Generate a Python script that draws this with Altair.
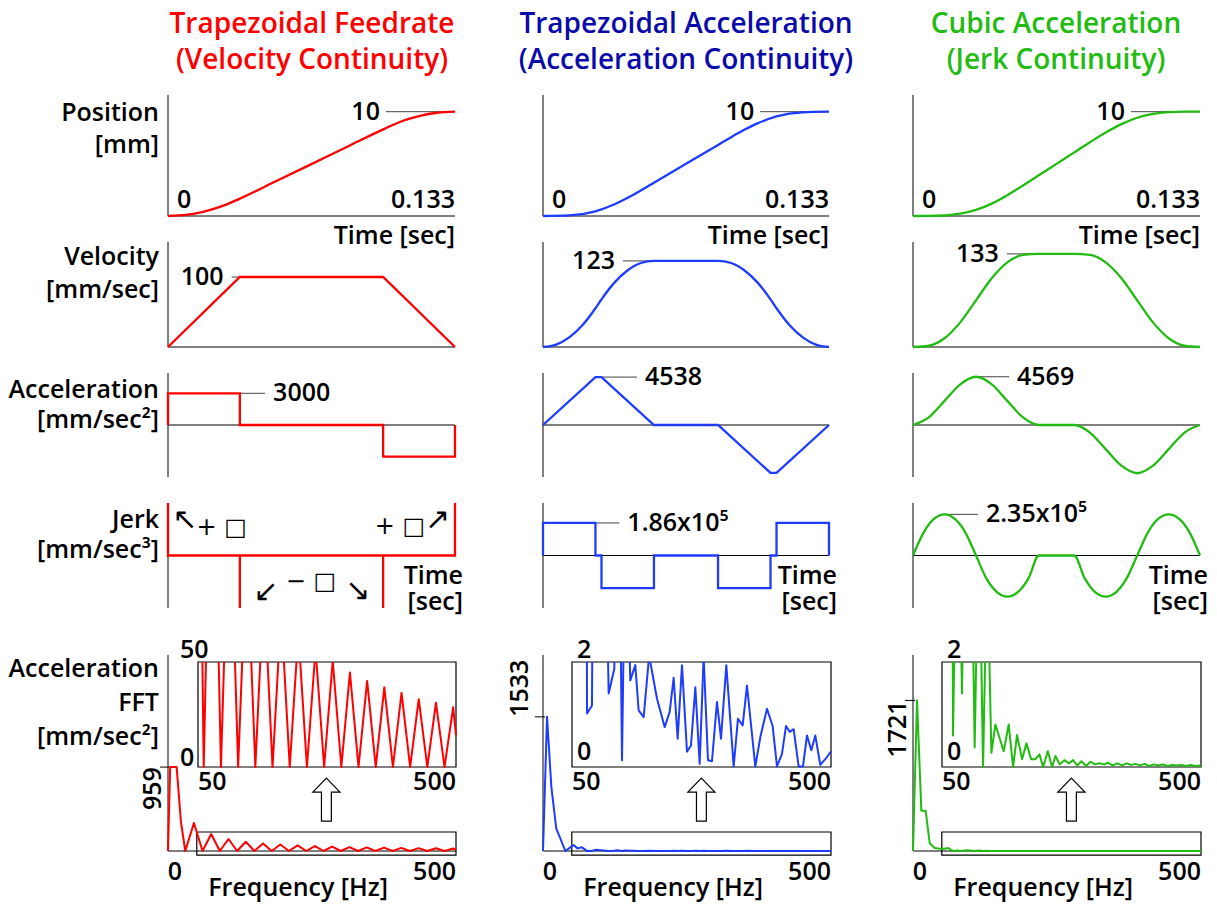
import altair as alt
import pandas as pd

FONT = "Open Sans"
FS = 25
FW = 600
T_END = 0.133

# ---------------- text content ----------------
title_line1 = ["Trapezoidal Feedrate", "Trapezoidal Acceleration", "Cubic Acceleration"]
title_line2 = ["(Velocity Continuity)", "(Acceleration Continuity)", "(Jerk Continuity)"]
title_colors = ["#FF0000", "#0A0AAA", "#22BB11"]
line_colors = ["#FF0000", "#1E3CFF", "#22BB11"]

row_labels = [
    ["Position", "[mm]"],
    ["Velocity", "[mm/sec]"],
    ["Acceleration", "[mm/sec²]"],
    ["Jerk", "[mm/sec³]"],
    ["Acceleration", "FFT", "[mm/sec²]"],
]

vel_peak = [100, 123, 133]
acc_peak = [3000, 4538, 4569]
jerk_peak = [0, 1.86, 2.35]          # x10^5
jerk_peak_text = ["", "1.86x10⁵", "2.35x10⁵"]
fft_peak = [959, 1533, 1721]
inset_top = [50, 2, 2]

# ---------------- time-domain series (time in s) ----------------
red_pos_t = [0, 0.0083, 0.0167, 0.025, 0.0333, 0.05, 0.0667, 0.0833, 0.1, 0.108, 0.1163, 0.1247, 0.133]
red_pos = [0, 0.10, 0.42, 0.94, 1.67, 3.33, 5.0, 6.67, 8.33, 9.06, 9.58, 9.90, 10.0]
blue_pos_t = [0, 0.0122, 0.0244, 0.0333, 0.0394, 0.0455, 0.0516, 0.0665, 0.0814, 0.0875, 0.0936, 0.0997, 0.1086, 0.1208, 0.133]
blue_pos = [0, 0.06, 0.45, 1.12, 1.74, 2.44, 3.19, 5.0, 6.81, 7.56, 8.26, 8.88, 9.55, 9.94, 10.0]
green_pos_t = [0, 0.0073, 0.0146, 0.0219, 0.0292, 0.0365, 0.0437, 0.051, 0.0583, 0.0665, 0.0747, 0.082, 0.0893, 0.0966, 0.1039, 0.1112, 0.1185, 0.1258, 0.133]
green_pos = [0, 0.003, 0.05, 0.22, 0.58, 1.19, 2.0, 2.93, 3.9, 5.0, 6.1, 7.07, 8.0, 8.81, 9.42, 9.78, 9.95, 10.0, 10.0]

red_vel_t = [0, 0.0333, 0.0997, 0.133]
red_vel = [0, 100, 100, 0]
blue_vel_t = [0, 0.0061, 0.0122, 0.0183, 0.0244, 0.0272, 0.0333, 0.0394, 0.0455, 0.0516, 0.0814, 0.0875, 0.0936, 0.0997, 0.1058, 0.1086, 0.1147, 0.1208, 0.1269, 0.133]
blue_vel = [0, 3.5, 13.8, 31, 55.4, 68.1, 92.3, 109.7, 120, 123, 123, 120, 109.7, 92.3, 68.1, 55.4, 31, 13.8, 3.5, 0]
green_vel_t = [0, 0.0073, 0.0146, 0.0219, 0.0292, 0.0365, 0.0437, 0.051, 0.0583, 0.0747, 0.082, 0.0893, 0.0966, 0.1039, 0.1112, 0.1185, 0.1258, 0.133]
green_vel = [0, 1.8, 12.5, 35.2, 66.7, 98.2, 120.9, 131.6, 133, 133, 131.6, 120.9, 98.2, 66.7, 35.2, 12.5, 1.8, 0]

red_acc_t = [0, 0, 0.0333, 0.0333, 0.0997, 0.0997, 0.133, 0.133]
red_acc = [0, 3000, 3000, 0, 0, -3000, -3000, 0]
blue_acc_t = [0, 0.0244, 0.0272, 0.0516, 0.0814, 0.1058, 0.1086, 0.133]
blue_acc = [0, 4538, 4538, 0, 0, -4538, -4538, 0]
green_acc_t = [0, 0.0073, 0.0146, 0.0219, 0.0292, 0.0365, 0.0437, 0.051, 0.0583, 0.0747, 0.082, 0.0893, 0.0966, 0.1039, 0.1112, 0.1185, 0.1258, 0.133]
green_acc = [0, 714, 2285, 3855, 4569, 3855, 2285, 714, 0, 0, -714, -2285, -3855, -4569, -3855, -2285, -714, 0]

# jerk in units of 1e5 mm/s^3 (red: spikes drawn to panel edge)
red_jerk_t = [0, 0, 0.0333, 0.0333, 0.0333, 0.0997, 0.0997, 0.0997, 0.133, 0.133]
red_jerk = [3, 0, 0, -3, 0, 0, -3, 0, 0, 3]
blue_jerk_t = [0, 0, 0.0244, 0.0244, 0.0272, 0.0272, 0.0516, 0.0516, 0.0814, 0.0814, 0.1058, 0.1058, 0.1086, 0.1086, 0.133, 0.133]
blue_jerk = [0, 1.86, 1.86, 0, 0, -1.86, -1.86, 0, 0, -1.86, -1.86, 0, 0, 1.86, 1.86, 0]
green_jerk_t = [0, 0.0049, 0.0097, 0.0146, 0.0194, 0.0243, 0.0292, 0.034, 0.0389, 0.0437, 0.0486, 0.0535, 0.0583,
                0.0747, 0.0796, 0.0844, 0.0893, 0.0942, 0.099, 0.1039, 0.1088, 0.1136, 0.1185, 0.1234, 0.1282, 0.133]
green_jerk = [0, 1.31, 2.09, 2.35, 2.09, 1.31, 0, -1.31, -2.09, -2.35, -2.09, -1.31, 0,
              0, -1.31, -2.09, -2.35, -2.09, -1.31, 0, 1.31, 2.09, 2.35, 2.09, 1.31, 0]

# ---------------- FFT series (Hz, mm/s^2) ----------------
red_fft_f = [0, 3.75, 15, 22.5, 30, 45, 60, 75, 90, 105, 120, 135, 150, 165, 180, 195, 210, 225, 240, 255, 270, 285,
             300, 315, 330, 345, 360, 375, 390, 405, 420, 435, 450, 465, 480, 495, 500]
red_fft_v = [0, 959, 959, 330, 0, 320, 0, 194, 0, 137, 0, 106, 0, 87, 0, 74, 0, 64, 0, 56, 0, 50.5,
             0, 45, 0, 41, 0, 38, 0, 35.3, 0, 32.3, 0, 30.6, 0, 28.4, 15]
blue_fft_f = [0, 7, 14.5, 23, 38.8, 47.5, 53, 60, 67.7, 76.1, 84.7, 92, 99, 106, 113.7, 123.5, 129, 136.9, 143, 151.3,
              160, 165.8, 174.5, 184, 197.7, 211, 219.7, 226.6, 233.6, 241.1, 249.8, 256.7, 264.3, 271.8, 278.7,
              286.3, 293.2, 301.9, 308.9, 318.1, 330.9, 338.4, 346.5, 354, 368.5, 377.2, 388.8, 398.6, 406.2, 414.8,
              421.8, 428.2, 435.1, 443.8, 451.3, 458.3, 465.8, 472.7, 481.4, 493, 500]
blue_fft_v = [0, 1533, 733, 259, 0, 42, 68, 30, 42, 1.02, 1.17, 15, 10, 6, 1.40, 1.87, 8, 0.13, 5, 1.65,
              1.94, 1.08, 0.95, 2.12, 1.30, 0.76, 1.05, 1.70, 0.54, 1.94, 0.29, 0.41, 1.52, 0.06, 2.1,
              0.13, 0.11, 1.24, 0.54, 1.94, 0.01, 0.92, 0.79, 1.55, 0.01, 0.57, 1.11, 0.78, 0.01, 0.25,
              0.78, 0.67, 0.72, 0.01, 0.01, 0.60, 0.32, 0.60, 0.04, 0.19, 0.30]
green_fft_f = [0, 7, 14.5, 22, 29, 37.7, 46.4, 55, 61, 69.1, 77, 84.8, 92, 99, 106.8, 114, 121.3, 128.5, 135.8, 142.8,
               157.2, 165.9, 173.5, 180.4, 189.1, 196.7, 204.8, 212.3, 219.3, 225.7, 233.8, 241.3, 247.1, 254.6, 262.8,
               270.3, 277.8, 284.8, 292.3, 300.4, 308, 315.5, 323.6, 331.2, 338.7, 346.8, 354.3, 363, 370.6, 378.7,
               386, 394, 402, 410, 418, 426, 434, 442, 450, 458, 466, 474, 482, 490, 500]
green_fft_v = [0, 1721, 460, 460, 88, 34, 25, 25, 34, 0.60, 6, 1.40, 8, 6, 0.37, 5, 0, 4, 0.27, 0.81,
               0.30, 0.81, 0, 0.61, 0.15, 0.45, 0.15, 0.15, 0.24, 0, 0.30, 0, 0.21, 0.05, 0.13,
               0.07, 0.13, 0.03, 0.11, 0.02, 0.10, 0.05, 0.07, 0.05, 0.08, 0.03, 0.07, 0.03, 0.07, 0.04,
               0.06, 0.03, 0.06, 0.02, 0.05, 0.03, 0.05, 0.02, 0.04, 0.03, 0.04, 0.02, 0.04, 0.02, 0.03]

pos_series = [(red_pos_t, red_pos), (blue_pos_t, blue_pos), (green_pos_t, green_pos)]
vel_series = [(red_vel_t, red_vel), (blue_vel_t, blue_vel), (green_vel_t, green_vel)]
acc_series = [(red_acc_t, red_acc), (blue_acc_t, blue_acc), (green_acc_t, green_acc)]
jerk_series = [(red_jerk_t, red_jerk), (blue_jerk_t, blue_jerk), (green_jerk_t, green_jerk)]
fft_series = [(red_fft_f, red_fft_v), (blue_fft_f, blue_fft_v), (green_fft_f, green_fft_v)]

# ---------------- layout (pixels) ----------------
XR = [(168, 455), (543, 829), (913, 1200)]      # time panels
FX = [(168, 456), (543, 831), (913, 1201)]      # FFT main, 0..500 Hz
IX = [(198, 456), (572, 831), (942, 1201)]      # FFT inset, 50..500 Hz
POS_Y, VEL_Y, ACC_Y, JERK_Y = (216, 95), (347, 242), (477, 373), (608, 503)
FFT_Y, INSET_Y = (851, 655), (767, 662)


def S(dom, rng):
    return alt.Scale(domain=list(dom), range=list(rng), zero=False, nice=False)


def XY(xs, ys):
    return {"x": alt.X("x:Q", scale=xs, axis=None), "y": alt.Y("y:Q", scale=ys, axis=None)}


def rules(xs, ys, segs, color="black", sw=1.0):
    df = pd.DataFrame(segs, columns=["x", "x2", "y", "y2"])
    return alt.Chart(df).mark_rule(color=color, strokeWidth=sw).encode(x2="x2:Q", y2="y2:Q", **XY(xs, ys))


def curve(xs, ys, xv, yv, color, sw=2.3, interp="linear", join="miter"):
    df = pd.DataFrame({"x": xv, "y": yv, "i": list(range(len(xv)))})
    return alt.Chart(df).mark_line(color=color, strokeWidth=sw, interpolate=interp,
                                   strokeJoin=join).encode(order="i:Q", **XY(xs, ys))


def pieces(xs, ys, segs, color, sw=2.0):
    rows = [{"x": p[0], "y": p[1], "seg": k, "i": j} for k, s in enumerate(segs) for j, p in enumerate(s)]
    return alt.Chart(pd.DataFrame(rows)).mark_line(color=color, strokeWidth=sw, strokeJoin="round").encode(
        detail="seg:N", order="i:Q", **XY(xs, ys))


def label(xs, ys, x, y, s, align="center", baseline="middle", dx=0, dy=0, size=FS, angle=0, font=FONT, weight=FW):
    df = pd.DataFrame({"x": [x], "y": [y], "s": [s]})
    mk = dict(align=align, baseline=baseline, dx=dx, dy=dy, fontSize=size, color="black", font=font,
              fontWeight=weight)
    if angle:
        mk["angle"] = angle
    return alt.Chart(df).mark_text(**mk).encode(text="s:N", **XY(xs, ys))


def frame(xs, ys, x, x2, y, y2):
    df = pd.DataFrame({"x": [x], "x2": [x2], "y": [y], "y2": [y2]})
    return alt.Chart(df).mark_rect(fill="white", fillOpacity=0, stroke="black", strokeWidth=1.2).encode(
        x2="x2:Q", y2="y2:Q", **XY(xs, ys))


def ptext(px, py, s, align="right", size=FS, color="black"):
    return alt.Chart(alt.Data(values=[{"s": s}])).mark_text(
        align=align, baseline="alphabetic", fontSize=size, color=color, font=FONT, fontWeight=FW).encode(
        x=alt.value(px), y=alt.value(py), text="s:N")


def clip_poly(xv, yv, xlo, xhi, yhi):
    """Split a polyline into the pieces that lie inside x in [xlo, xhi], y <= yhi."""
    segs, cur = [], []
    for k in range(len(xv) - 1):
        x0, y0, x1, y1 = xv[k], yv[k], xv[k + 1], yv[k + 1]
        dx, dy = x1 - x0, y1 - y0
        t0, t1, ok = 0.0, 1.0, True
        for p, q in ((-dx, x0 - xlo), (dx, xhi - x0), (dy, yhi - y0)):
            if p == 0:
                if q < 0:
                    ok = False
                    break
            else:
                r = q / p
                if p < 0:
                    t0 = max(t0, r)
                else:
                    t1 = min(t1, r)
        if not ok or t1 - t0 <= 1e-12:
            if cur:
                segs.append(cur)
                cur = []
            continue
        a = (x0 + t0 * dx, y0 + t0 * dy)
        b = (x0 + t1 * dx, y0 + t1 * dy)
        if cur and abs(cur[-1][0] - a[0]) < 1e-9 and abs(cur[-1][1] - a[1]) < 1e-9:
            cur.append(b)
        else:
            if cur:
                segs.append(cur)
            cur = [a, b]
    if cur:
        segs.append(cur)
    return segs


layers = []
GRAY = "#444444"

vel_lead = [(0.0295, 0.0333), (0.0372, 0.0516), (0.0435, 0.0583)]
acc_lead = [(0.0333, 0.045), (0.0272, 0.0437), (0.0292, 0.0445)]
jerk_lead = [None, (0.0244, 0.0355), (0.0146, 0.0301)]
fft_label_pos = [(-36.5, 6, "right"), (-31, -5, "left"), (-31, 3, "right")]

for c in range(3):
    col = line_colors[c]
    ts = [0, T_END]

    # ---- Position ----
    xs, ys = S(ts, XR[c]), S([0, 11.6], POS_Y)
    t, v = pos_series[c]
    layers.append(alt.layer(
        rules(xs, ys, [(0, 0, 0, 11.6), (0, T_END, 0, 0)]),
        rules(xs, ys, [(0.101, T_END, 10, 10)], color=GRAY),
        curve(xs, ys, t, v, col, interp="monotone"),
        label(xs, ys, 0.101, 10, "10", align="right", dx=-6),
        label(xs, ys, 0, 0, "0", align="left", baseline="alphabetic", dx=9, dy=-8),
        label(xs, ys, T_END, 0, "0.133", align="right", baseline="alphabetic", dy=-8),
        label(xs, ys, T_END, 0, "Time [sec]", align="right", baseline="alphabetic", dy=28),
    ))

    # ---- Velocity ----
    xs, ys = S(ts, XR[c]), S([0, 150], VEL_Y)
    t, v = vel_series[c]
    a, b = vel_lead[c]
    layers.append(alt.layer(
        rules(xs, ys, [(0, 0, 0, 150), (0, T_END, 0, 0)]),
        rules(xs, ys, [(a, b, vel_peak[c], vel_peak[c])], color=GRAY),
        curve(xs, ys, t, v, col, interp="linear" if c == 0 else "monotone"),
        label(xs, ys, a, vel_peak[c], str(vel_peak[c]), align="right", dx=-8),
    ))

    # ---- Acceleration ----
    xs, ys = S(ts, XR[c]), S([-4925, 4925], ACC_Y)
    t, v = acc_series[c]
    a, b = acc_lead[c]
    layers.append(alt.layer(
        rules(xs, ys, [(0, 0, -4925, 4925), (0, T_END, 0, 0)]),
        rules(xs, ys, [(a, b, acc_peak[c], acc_peak[c])], color=GRAY),
        curve(xs, ys, t, v, col, interp="monotone" if c == 2 else "linear"),
        label(xs, ys, b, acc_peak[c], str(acc_peak[c]), align="left", dx=8),
    ))

    # ---- Jerk ----
    xs, ys = S(ts, XR[c]), S([-3, 3], JERK_Y)
    t, v = jerk_series[c]
    jl = [rules(xs, ys, [(0, 0, -3, 3), (0, T_END, 0, 0)])]
    if jerk_lead[c]:
        a, b = jerk_lead[c]
        jl.append(rules(xs, ys, [(a, b, jerk_peak[c], jerk_peak[c])], color=GRAY))
    jl.append(curve(xs, ys, t, v, col, interp="monotone" if c == 2 else "linear"))
    if jerk_lead[c]:
        jl.append(label(xs, ys, jerk_lead[c][1], jerk_peak[c], jerk_peak_text[c], align="left", dx=8))
    jl.append(label(xs, ys, T_END, 0, "Time", align="right", dx=8, dy=20))
    jl.append(label(xs, ys, T_END, 0, "[sec]", align="right", dx=8, dy=46))
    if c == 0:
        jl += [
            label(xs, ys, 0.0079, 2.03, "↖", size=30, font="DejaVu Sans", weight="normal"),
            label(xs, ys, 0.0249, 1.6, "+ □", size=24, font="DejaVu Sans", weight="normal"),
            label(xs, ys, 0.1075, 1.63, "+ □", size=24, font="DejaVu Sans", weight="normal"),
            label(xs, ys, 0.1249, 2.03, "↗", size=30, font="DejaVu Sans", weight="normal"),
            label(xs, ys, 0.0663, -1.51, "− □", size=24, font="DejaVu Sans", weight="normal"),
            label(xs, ys, 0.0454, -2.09, "↙", size=30, font="DejaVu Sans", weight="normal"),
            label(xs, ys, 0.088, -2.03, "↘", size=30, font="DejaVu Sans", weight="normal"),
        ]
    layers.append(alt.layer(*jl))

    # ---- FFT main ----
    xs, ys = S([0, 500], FX[c]), S([0, 2240], FFT_Y)
    f, v = fft_series[c]
    fx, fdy, falign = fft_label_pos[c]
    arrow = alt.Chart(pd.DataFrame({"x": [275], "y": [587]})).mark_point(
        shape="M0,-1L0.63,-0.35L0.23,-0.35L0.23,1L-0.23,1L-0.23,-0.35L-0.63,-0.35Z",
        size=1849, filled=True, fill="white", stroke="black", strokeWidth=1.2, opacity=1).encode(**XY(xs, ys))
    layers.append(alt.layer(
        rules(xs, ys, [(0, 0, 0, 2240), (0, 500, 0, 0), (-14, 3.5, fft_peak[c], fft_peak[c])]),
        frame(xs, ys, 50, 500, -46, 217),
        curve(xs, ys, f, v, col, sw=2.0, join="round"),
        label(xs, ys, fx, fft_peak[c], str(fft_peak[c]), align=falign, dy=fdy, angle=270),
        label(xs, ys, 0, 0, "0", dx=7, dy=21),
        label(xs, ys, 500, 0, "500", align="right", dy=21),
        label(xs, ys, 226, 0, "Frequency [Hz]", dy=37),
        arrow,
    ))

    # ---- FFT inset ----
    top = inset_top[c]
    xs, ys = S([50, 500], IX[c]), S([0, top], INSET_Y)
    segs = clip_poly(f, v, 50, 500, top)
    ldx = -18 if c == 0 else 5
    layers.append(alt.layer(
        frame(xs, ys, 50, 500, 0, top),
        pieces(xs, ys, segs, col, sw=2.0),
        label(xs, ys, 50, top, str(top), align="left", dx=ldx, dy=-12),
        label(xs, ys, 50, 0, "0", align="left", dx=ldx, dy=-9 if c == 0 else -15),
        label(xs, ys, 50, 0, "50", align="left", dy=15),
        label(xs, ys, 500, 0, "500", align="right", dy=15),
    ))

# ---------------- titles and row labels ----------------
title_x = [312, 686, 1056]
for c in range(3):
    layers.append(ptext(title_x[c], 33, title_line1[c], align="center", size=28, color=title_colors[c]))
    layers.append(ptext(title_x[c], 69, title_line2[c], align="center", size=28, color=title_colors[c]))

row_baselines = [[121, 153], [265, 298], [398, 428], [528, 558], [677, 711, 745]]
for lines, bls in zip(row_labels, row_baselines):
    for s, bl in zip(lines, bls):
        layers.append(ptext(159, bl, s))

chart = alt.layer(*layers).resolve_scale(x="independent", y="independent").properties(
    width=1217, height=905, autosize=alt.AutoSizeParams(type="none"), padding=0
).configure_view(stroke=None)

chart.save("out.html", embed_options={"renderer": "svg", "actions": False})
